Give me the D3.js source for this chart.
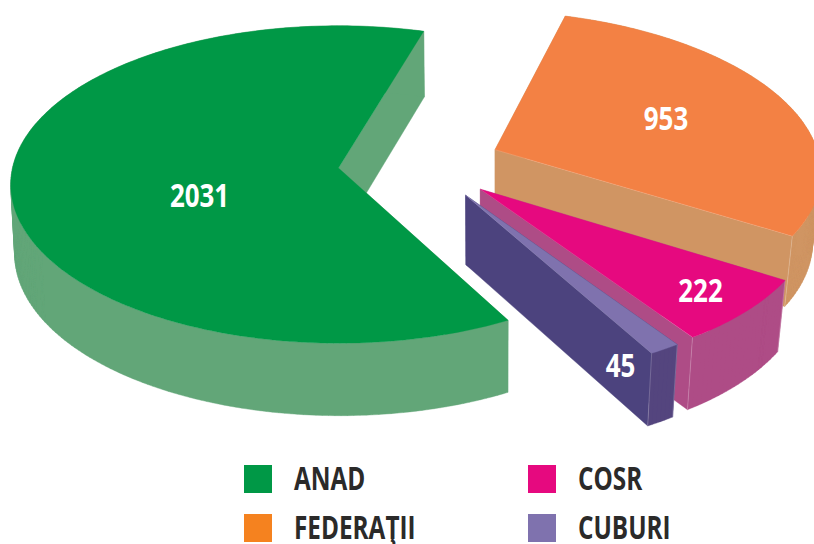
<!DOCTYPE html>
<html>
<head>
<meta charset="utf-8">
<script src="https://cdn.jsdelivr.net/npm/d3@7"></script>
<style>
html,body{margin:0;padding:0;background:#fff;overflow:hidden}
svg{display:block}
text{font-family:"Open Sans","Noto Sans",sans-serif;font-weight:700}
</style>
</head>
<body>
<svg id="c" width="814" height="544"></svg>
<script>
const categories = ["ANAD","FEDERAŢII","COSR","CUBURI"];
const values = [2031,953,222,45];
const topColors = ["#009846","#f38144","#e6097f","#7f72ae"];
const wallColors = ["#62a678","#d09563","#ae4c86","#54457e"];
const radialColors = ["#62a678","#d09563","#ae4c86","#4c437e"];
const legendColors = ["#009846","#f5821f","#e6097f","#7f72ae"];

// layout
const cx = 338.5, cy = 168, Rx = 326, Ry = 157, persp = 0.104;
const depth = 69, depthGrow = 0.05, vpX = 500, vpKRight = 0.026, vpKLeft = 0.008;
const explode = [[0,0],[0.486,-0.118],[0.429,0.133],[0.383,0.17]];
const labelPos = [[199.5,207],[666,130],[700.5,302],[620.5,377]];
const legendPos = [[244,465],[244,514],[528,465],[528,514]];
const labelScale = 0.81, legendScale = 0.76;

const svg = d3.select("#c");
const deg = Math.PI/180;
const arcs = d3.pie().sort(null).startAngle(151.8*deg).endAngle(511.8*deg)(values);

function plane(u,v){ return {u,v}; }
function topPt(p){
  const w = 1 - persp*p.v;
  return [cx + Rx*p.u/w, cy + Ry*p.v/w];
}
function bottomPt(p){
  const t = topPt(p);
  const lean = (vpX - t[0]) * (t[0] > vpX ? vpKRight : vpKLeft);
  return [t[0] + lean, t[1] + depth*(1 + depthGrow*p.v)];
}
const line = d3.line();

arcs.forEach((a,i)=>{
  const [ou,ov] = explode[i];
  const centre = plane(ou,ov);
  const steps = Math.max(6, Math.ceil((a.endAngle-a.startAngle)/(1*deg)));
  const angs = d3.range(steps+1).map(k=>a.startAngle + (a.endAngle-a.startAngle)*k/steps);
  const rim = angs.map(t=>plane(ou+Math.sin(t), ov-Math.cos(t)));
  const g = svg.append("g");
  const ends = [rim[0],rim[rim.length-1]];

  // radial walls
  ends.forEach(e=>{
    g.append("path")
      .attr("d", line([topPt(centre),topPt(e),bottomPt(e),bottomPt(centre)])+"Z")
      .attr("fill",radialColors[i]).attr("stroke",radialColors[i]).attr("stroke-width",0.4);
  });
  // outer wall: one quad per rim step, all wound the same way
  const wallPath = d3.pairs(rim).map(([p,q])=>{
    const quad = [topPt(p),topPt(q),bottomPt(q),bottomPt(p)];
    if(d3.polygonArea(quad) < 0) quad.reverse();
    return line(quad)+"Z";
  }).join("");
  g.append("path").attr("d",wallPath)
    .attr("fill",wallColors[i]).attr("stroke",wallColors[i]).attr("stroke-width",0.4);
  // vertical seams (covered by the top face where hidden)
  if(i>0) ends.forEach(e=>{
    g.append("path").attr("d",line([topPt(e),bottomPt(e)]))
      .attr("stroke","#fff").attr("stroke-opacity",0.3).attr("stroke-width",0.7).attr("fill","none");
  });
  // top face
  g.append("path")
    .attr("d", line([topPt(centre)].concat(rim.map(topPt)))+"Z")
    .attr("fill",topColors[i]).attr("stroke",topColors[i]).attr("stroke-width",0.3);
  // thin light seam along the top edge
  if(i>0) g.append("path").attr("d",line([topPt(centre),topPt(ends[1])]))
      .attr("stroke","#fff").attr("stroke-opacity",0.25).attr("stroke-width",0.6).attr("fill","none");
});

// value labels
values.forEach((v,i)=>{
  svg.append("text")
    .attr("transform",`translate(${labelPos[i][0]},${labelPos[i][1]}) scale(${labelScale},1)`)
    .attr("text-anchor","middle").attr("font-size",32).attr("fill","#fff").text(v);
});

// legend
categories.forEach((c,i)=>{
  const [x,y] = legendPos[i];
  svg.append("rect").attr("x",x).attr("y",y).attr("width",28).attr("height",28).attr("fill",legendColors[i]);
  svg.append("text")
    .attr("transform",`translate(${x+50},${y+25}) scale(${legendScale},1)`)
    .attr("font-size",32).attr("fill","#2b2a29").text(c);
});
</script>
</body>
</html>
